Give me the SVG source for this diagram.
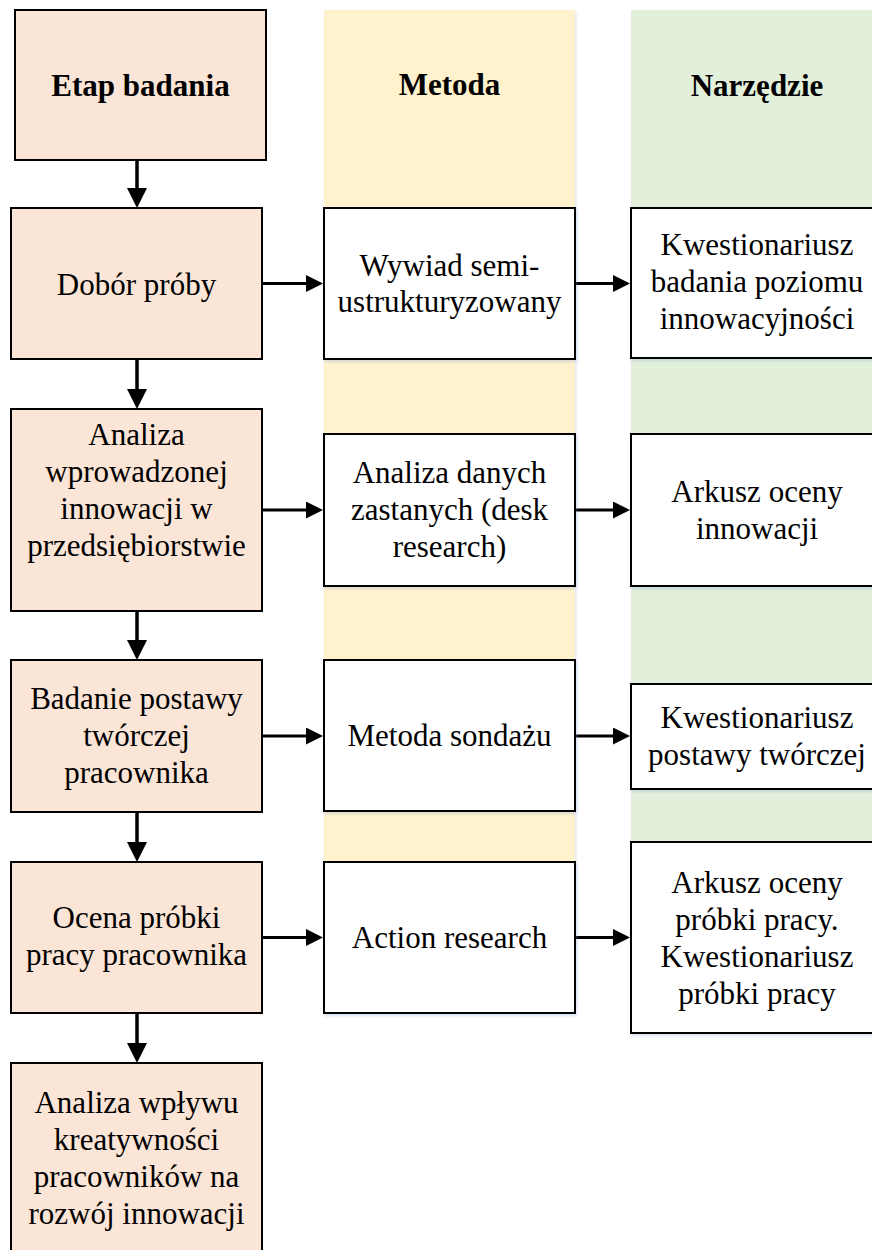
<svg xmlns="http://www.w3.org/2000/svg" width="872" height="1250" viewBox="0 0 872 1250">
  <style>
    text { font-family: "Liberation Serif", "Times New Roman", serif; font-size: 31px; fill: #000; text-anchor: middle; }
    .head { font-weight: bold; }
    .stage { fill: #FBE5D6; stroke: #000; stroke-width: 2; }
    .plain { fill: #FFFFFF; stroke: #000; stroke-width: 2; }
    .lane-method { fill: #FFF2CC; }
    .lane-tool { fill: #E2EFDA; }
    .down { fill: none; stroke: #000; stroke-width: 3.5; }
    .right { fill: none; stroke: #000; stroke-width: 3; }
  </style>
  <defs>
    <filter id="soft" x="-5%" y="-5%" width="112%" height="112%">
      <feDropShadow dx="1" dy="2" stdDeviation="1.5" flood-color="#8EAADB" flood-opacity="0.35"/>
    </filter>
    <marker id="headDown" markerUnits="userSpaceOnUse" markerWidth="20" markerHeight="20" refX="0" refY="10" orient="auto">
      <path d="M0,0 L20,10 L0,20 z" fill="#000"/>
    </marker>
    <marker id="headRight" markerUnits="userSpaceOnUse" markerWidth="17" markerHeight="17" refX="0" refY="8.5" orient="auto">
      <path d="M0,0 L17,8.5 L0,17 z" fill="#000"/>
    </marker>
  </defs>

  <rect width="872" height="1250" fill="#FFFFFF"/>

  <!-- column backgrounds -->
  <g id="lanes">
    <rect class="lane-method" x="324" y="10" width="251" height="990" filter="url(#soft)"/>
    <rect class="lane-tool" x="631" y="10" width="260" height="1010" filter="url(#soft)"/>
  </g>

  <!-- connectors -->
  <g id="connectors">
    <path class="down" d="M137,160 V188" marker-end="url(#headDown)"/>
    <path class="down" d="M137,359 V389" marker-end="url(#headDown)"/>
    <path class="down" d="M137,611 V640" marker-end="url(#headDown)"/>
    <path class="down" d="M137,812 V842" marker-end="url(#headDown)"/>
    <path class="down" d="M137,1013 V1043" marker-end="url(#headDown)"/>

    <path class="right" d="M262,283.5 H306" marker-end="url(#headRight)"/>
    <path class="right" d="M262,510 H306" marker-end="url(#headRight)"/>
    <path class="right" d="M262,736 H306" marker-end="url(#headRight)"/>
    <path class="right" d="M262,937.5 H306" marker-end="url(#headRight)"/>

    <path class="right" d="M575,283.5 H613" marker-end="url(#headRight)"/>
    <path class="right" d="M575,510 H613" marker-end="url(#headRight)"/>
    <path class="right" d="M575,736 H613" marker-end="url(#headRight)"/>
    <path class="right" d="M575,937.5 H613" marker-end="url(#headRight)"/>
  </g>

  <!-- column headings -->
  <g id="head-etap">
    <rect class="stage" x="15" y="10" width="251" height="150"/>
    <text class="head" x="140.5" y="96">Etap badania</text>
  </g>
  <g id="head-metoda">
    <text class="head" x="449.5" y="95">Metoda</text>
  </g>
  <g id="head-narzedzie">
    <text class="head" x="757" y="96">Narzędzie</text>
  </g>

  <!-- research stages -->
  <g id="stage-1">
    <rect class="stage" x="11" y="208" width="251" height="151"/>
    <text x="136.5" y="295">Dobór próby</text>
  </g>
  <g id="stage-2">
    <rect class="stage" x="11" y="409" width="251" height="202"/>
    <text x="136.5" y="445">Analiza</text>
    <text x="136.5" y="482">wprowadzonej</text>
    <text x="136.5" y="519">innowacji w</text>
    <text x="136.5" y="556">przedsiębiorstwie</text>
  </g>
  <g id="stage-3">
    <rect class="stage" x="11" y="660" width="251" height="152"/>
    <text x="136.5" y="709">Badanie postawy</text>
    <text x="136.5" y="746">twórczej</text>
    <text x="136.5" y="783">pracownika</text>
  </g>
  <g id="stage-4">
    <rect class="stage" x="11" y="862" width="251" height="151"/>
    <text x="136.5" y="928">Ocena próbki</text>
    <text x="136.5" y="965">pracy pracownika</text>
  </g>
  <g id="stage-5">
    <rect class="stage" x="11" y="1063" width="251" height="200"/>
    <text x="136.5" y="1113">Analiza wpływu</text>
    <text x="136.5" y="1150">kreatywności</text>
    <text x="136.5" y="1187">pracowników na</text>
    <text x="136.5" y="1224">rozwój innowacji</text>
  </g>

  <!-- methods -->
  <g id="method-1">
    <rect class="plain" x="324" y="208" width="251" height="151" filter="url(#soft)"/>
    <text x="449.5" y="276">Wywiad semi-</text>
    <text x="449.5" y="312">ustrukturyzowany</text>
  </g>
  <g id="method-2">
    <rect class="plain" x="324" y="434" width="251" height="152" filter="url(#soft)"/>
    <text x="449.5" y="483">Analiza danych</text>
    <text x="449.5" y="520">zastanych (desk</text>
    <text x="449.5" y="557">research)</text>
  </g>
  <g id="method-3">
    <rect class="plain" x="324" y="660" width="251" height="151" filter="url(#soft)"/>
    <text x="449.5" y="746">Metoda sondażu</text>
  </g>
  <g id="method-4">
    <rect class="plain" x="324" y="862" width="251" height="151" filter="url(#soft)"/>
    <text x="449.5" y="948">Action research</text>
  </g>

  <!-- tools -->
  <g id="tool-1">
    <rect class="plain" x="631" y="208" width="260" height="150" filter="url(#soft)"/>
    <text x="757" y="255">Kwestionariusz</text>
    <text x="757" y="292">badania poziomu</text>
    <text x="757" y="329">innowacyjności</text>
  </g>
  <g id="tool-2">
    <rect class="plain" x="631" y="434" width="260" height="152" filter="url(#soft)"/>
    <text x="757" y="502">Arkusz oceny</text>
    <text x="757" y="539">innowacji</text>
  </g>
  <g id="tool-3">
    <rect class="plain" x="631" y="684" width="260" height="105" filter="url(#soft)"/>
    <text x="757" y="728">Kwestionariusz</text>
    <text x="757" y="765">postawy twórczej</text>
  </g>
  <g id="tool-4">
    <rect class="plain" x="631" y="842" width="260" height="191" filter="url(#soft)"/>
    <text x="757" y="893">Arkusz oceny</text>
    <text x="757" y="930">próbki pracy.</text>
    <text x="757" y="967">Kwestionariusz</text>
    <text x="757" y="1004">próbki pracy</text>
  </g>
</svg>
